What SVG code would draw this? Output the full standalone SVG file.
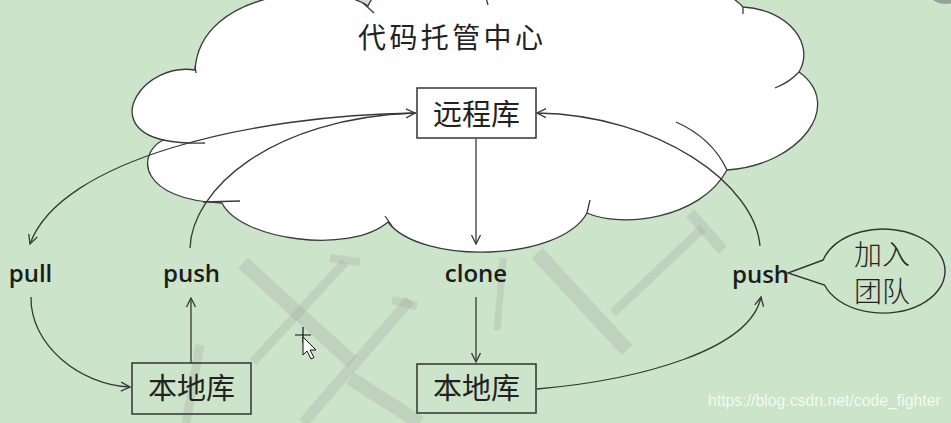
<svg xmlns="http://www.w3.org/2000/svg" width="951" height="423" viewBox="0 0 951 423">
<style>
.bg{fill:#cce4c9}
.ln{fill:none;stroke:#383838;stroke-width:1.3}
.cl{fill:#ffffff;stroke:#3a3a3a;stroke-width:1.3}
.tick{fill:none;stroke:#3a3a3a;stroke-width:1.3}
.box{stroke:#333;stroke-width:1.5}
.cjk{font-family:"Noto Sans CJK SC","Noto Sans",sans-serif;fill:#222}
.lbl{font-family:"Open Sans","Noto Sans",sans-serif;font-weight:600;font-size:24px;fill:#1c1c1c;text-anchor:middle}
.wm{fill:none;stroke:#a0a0a0;stroke-opacity:0.26;stroke-linecap:butt}
</style>
<defs>
<marker id="arr" viewBox="0 0 12 12" refX="11" refY="6" markerWidth="12" markerHeight="12" orient="auto" markerUnits="userSpaceOnUse">
<path d="M2 1.5 L11 6 L2 10.5" fill="none" stroke="#383838" stroke-width="1.3"/>
</marker>
</defs>
<rect class="bg" x="0" y="0" width="951" height="423"/>
<g id="watermark-strokes">
<path class="wm" d="M243 263 L352 362" stroke-width="14"/>
<path class="wm" d="M345 262 L253 362" stroke-width="9"/>
<path class="wm" d="M330 258 L360 262" stroke-width="8"/>
<path class="wm" d="M410 300 L303 423" stroke-width="11"/>
<path class="wm" d="M392 300 L417 306" stroke-width="8"/>
<path class="wm" d="M350 378 L420 423" stroke-width="14"/>
<path class="wm" d="M200 345 L186 423" stroke-width="9"/>
<path class="wm" d="M537 253 L627 350" stroke-width="15"/>
<path class="wm" d="M613 313 L703 228" stroke-width="9"/>
<path class="wm" d="M690 213 L723 250" stroke-width="11"/>
<path class="wm" d="M503 258 Q 500 300 497 330" stroke-width="7"/>
</g>
<g id="cloud">
<path class="cl" d="M368 6 C330 -20 200 -10 195 70 C145 62 100 125 163 140 C135 155 140 200 222 203 C240 240 350 255 388 222 C420 265 560 262 587 213 C620 228 700 220 727 170 C800 165 845 105 799 72 C815 45 790 10 743 7 C700 -40 520 -40 486 -2 C450 -40 390 -40 368 6 Z"/>
<path class="tick" d="M363 3 L374 13"/>
<path class="tick" d="M195 66 L196 73"/>
<path class="tick" d="M163 140 Q185 144 205 143"/>
<path class="tick" d="M203 202 L240 201"/>
<path class="tick" d="M385 216 L392 226"/>
<path class="tick" d="M590 200 L587 213"/>
<path class="tick" d="M727 170 Q712 138 676 122"/>
<path class="tick" d="M799 72 Q790 82 775 88"/>
<path class="tick" d="M743 7 L743 14"/>
<path class="tick" d="M486 -2 L488 5"/>
<text class="cjk" x="358" y="48" font-size="28" textLength="185" lengthAdjust="spacing">代码托管中心</text>
</g>
<g id="connectors">
<path class="ln" d="M416 113 C250 115 60 160 30 244" marker-end="url(#arr)"/>
<path class="ln" d="M190 248 C192 190 270 118 415 113" marker-end="url(#arr)"/>
<path class="ln" d="M476 139 L476 244" marker-end="url(#arr)"/>
<path class="ln" d="M760 246 C755 185 660 115 537 113" marker-end="url(#arr)"/>
<path class="ln" d="M537 389 C640 380 750 350 761 297" marker-end="url(#arr)"/>
<path class="ln" d="M31 297 C30 345 80 385 130 387" marker-end="url(#arr)"/>
<path class="ln" d="M191 363 L191 298" marker-end="url(#arr)"/>
<path class="ln" d="M476 297 L476 362" marker-end="url(#arr)"/>
</g>
<g id="remote">
<rect class="box" x="417" y="88" width="119" height="50" fill="#ffffff"/>
<text class="cjk" x="476.5" y="125" font-size="29" text-anchor="middle">远程库</text>
</g>
<g id="local-left">
<rect class="box" x="132" y="363" width="119" height="51" fill="none"/>
<text class="cjk" x="191.5" y="399" font-size="29" text-anchor="middle">本地库</text>
</g>
<g id="local-right">
<rect class="box" x="417" y="364" width="119" height="49" fill="none"/>
<text class="cjk" x="476.5" y="399" font-size="29" text-anchor="middle">本地库</text>
</g>
<g id="pull"><text class="lbl" x="30.5" y="282">pull</text></g>
<g id="push-left"><text class="lbl" x="191.5" y="282">push</text></g>
<g id="clone"><text class="lbl" x="476" y="282">clone</text></g>
<g id="push-right"><text class="lbl" x="760.5" y="283">push</text></g>
<g id="callout">
<path d="M823.2 260 L788 273 L824.5 285 A62 42 0 1 0 823.2 260 Z" fill="none" stroke="#333" stroke-width="1.4"/>
<text class="cjk" x="882" y="265" font-size="28" font-weight="300" text-anchor="middle">加入</text>
<text class="cjk" x="882" y="302" font-size="28" font-weight="300" text-anchor="middle">团队</text>
</g>
<g id="cursor">
<path d="M303 327 L303 343 M295 335 L311 335" stroke="#111" stroke-width="1.2"/>
<path d="M303 337 L303 355 L307 351 L311 359 L314 357.5 L310 350 L316 350 Z" fill="#fff" stroke="#111" stroke-width="1"/>
</g>
<ellipse cx="946" cy="-6" rx="16" ry="10" fill="#777" fill-opacity="0.6"/>
<text x="708" y="406" font-family="Liberation Sans, Arial, sans-serif" font-size="15.8" fill="#ffffff" fill-opacity="0.8">https://blog.csdn.net/code_fighter</text>
</svg>
